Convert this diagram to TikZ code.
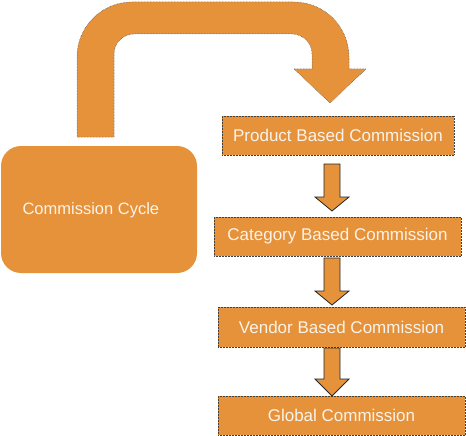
\documentclass[tikz,border=0pt]{standalone}
\usepackage{fontspec}
\setmainfont{Liberation Sans}
\usetikzlibrary{calc}
\definecolor{boxorange}{HTML}{E6923A}
\definecolor{boxtext}{HTML}{FAF3EA}
\tikzset{
  stepbox/.style={draw=black!75, densely dotted, line width=0.5pt, fill=boxorange,
    text=boxtext, minimum height=39pt, inner sep=0pt, font=\fontsize{17}{20}\selectfont},
  cyclebox/.style={fill=boxorange, rounded corners=20pt, minimum width=196pt,
    minimum height=127pt},
  blockarrow/.style={fill=boxorange, draw=black!85, line width=0.8pt, line join=miter},
  bendarrow/.style={fill=boxorange, draw=black!70, densely dotted, line width=0.5pt}
}
\begin{document}
\begin{tikzpicture}[x=1pt,y=-1pt]
\useasboundingbox (0,0) rectangle (466,436);

\node[cyclebox] (cycle) at (99,209.5) {};
\node[anchor=west, text=boxtext, font=\fontsize{16.5}{20}\selectfont] (cyclelabel) at (19,210) {Commission Cycle};

\node[stepbox, minimum width=232pt] (product) at (338,135.5) {Product Based Commission};
\node[stepbox, minimum width=247pt] (category) at (337.5,236.5) {Category Based Commission};
\node[stepbox, minimum width=247pt, minimum height=40pt] (vendor) at (341.5,327) {Vendor Based Commission};
\node[stepbox, minimum width=247pt] (global) at (341.5,415.5) {Global Commission};

\draw[bendarrow] (77,137) -- (77,57) arc (180:270:55) -- (294,2) arc (270:360:55)
  -- (349,69) -- (366,69) -- (330,103) -- (294,69) -- (312,69) -- (312,54)
  arc (0:-90:20) -- (134,34) arc (-90:-180:20) -- (114,137) -- cycle;

\foreach \t/\w/\b in {164/197/211, 258/291/305, 348/379/396}
  \draw[blockarrow] (324,\t) -- (340,\t) -- (340,\w) -- (349,\w) -- (332,\b)
    -- (315,\w) -- (324,\w) -- cycle;

\end{tikzpicture}
\end{document}
